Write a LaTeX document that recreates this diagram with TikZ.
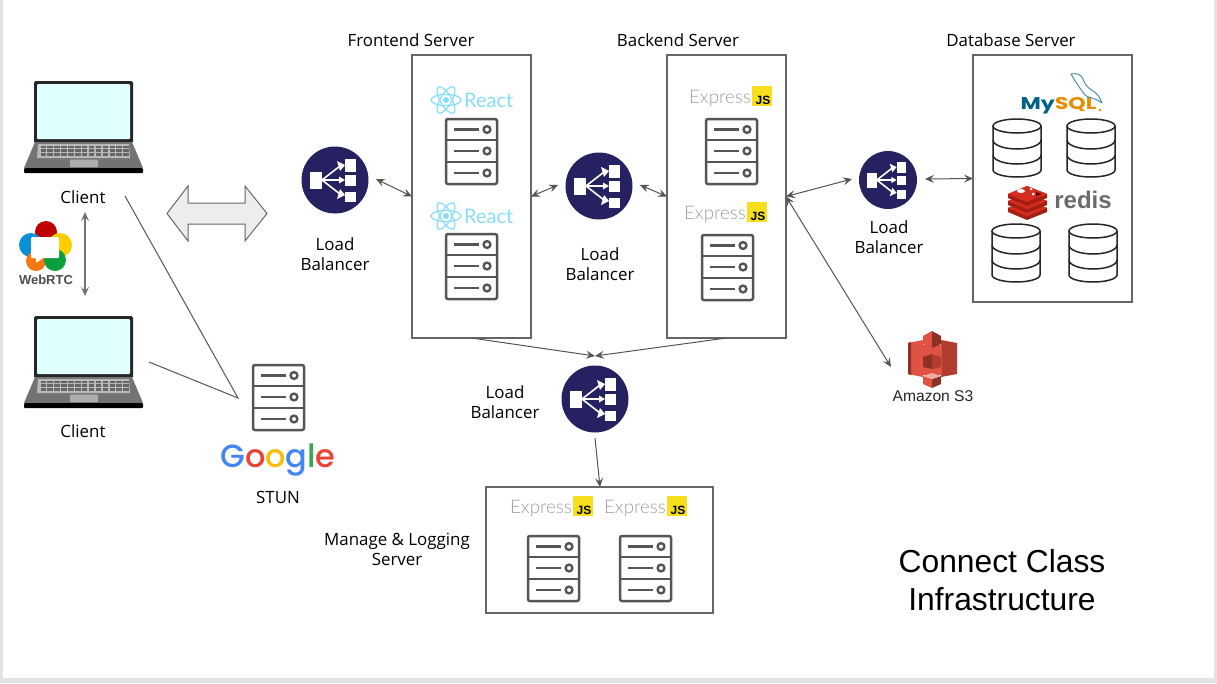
\documentclass[tikz,border=0pt]{standalone}
\usepackage{fontspec}
\setmainfont{Open Sans}
\newfontfamily\arialf{Liberation Sans}
\newfontfamily\latof{Lato}
\newfontfamily\latol{Lato Light}
\newfontfamily\popf{Poppins}
\newfontfamily\popm{Poppins Medium}
\usetikzlibrary{arrows.meta}
\definecolor{lbblue}{HTML}{262262}
\definecolor{srvgray}{HTML}{555555}
\definecolor{edge}{HTML}{666666}
\definecolor{reactc}{HTML}{86DDFA}
\definecolor{jsy}{HTML}{F7DF1E}
\definecolor{s3l}{HTML}{E05243}
\definecolor{s3d}{HTML}{8C3123}
\definecolor{s3m}{HTML}{B23D2E}
\tikzset{
 x=1pt,y=-1pt,
 lbl/.style={font=\fontsize{16.9}{20}\selectfont,align=center,inner sep=0pt,text=black},
 boxn/.style={draw=edge,line width=1.1pt,fill=white,inner sep=0pt,outer sep=0pt},
 lbn/.style={circle,fill=lbblue,inner sep=0pt},
 tip/.style={{Stealth[length=9pt,width=8pt,inset=3.5pt]}-{Stealth[length=9pt,width=8pt,inset=3.5pt]},draw=srvgray,line width=1pt},
 tipend/.style={-{Stealth[length=9pt,width=8pt,inset=3.5pt]},draw=srvgray,line width=1pt},
 plain/.style={draw=srvgray,line width=1pt},
 server/.pic={
  \draw[srvgray,line width=2.5pt,rounded corners=2pt,fill=white] (1,1) rectangle (52,66);
  \draw[srvgray,line width=2.2pt] (1,22)--(52,22) (1,44)--(52,44);
  \foreach \y in {11.5,33,55}{
   \draw[srvgray,line width=2.2pt] (9,\y)--(34,\y);
   \draw[srvgray,line width=2.4pt] (42,\y) circle (3.4);
  }
 },
 laptop/.pic={
  \fill[black!85,rounded corners=1.5pt] (0,0) rectangle (99,62);
  \fill[color={rgb,255:red,224;green,255;blue,255},rounded corners=1pt] (3,3) rectangle (96,58);
  \fill[black!55] (1,61)--(98,61)--(109,87)--(-10,87)--cycle;
  \fill[black,rounded corners=1pt] (-10,87) rectangle (109,92);
  \fill[black!28] (4,63) -- (95,63) -- (96,77) -- (3,77) -- cycle;
  \foreach \r in {0,1,2}{\foreach \c in {0,...,12}{
    \fill[black!60] ({6.5+\c*6.9},{64.5+\r*3.9}) rectangle ++(5.5,2.8);
  }}
  \fill[black!32,rounded corners=1pt] (36,78.5) rectangle (64,86);
 },
 lbicon/.pic={
  \fill[white] (-25,-8) rectangle (-13,9);
  \fill[white] (10,-21) rectangle (21,-8);
  \fill[white] (10,-5) rectangle (21,6);
  \fill[white] (10,12) rectangle (21,22);
  \draw[white,line width=1.6pt] (-13,0)--(5,-14) (-13,0)--(5,0) (-13,0)--(5,14);
  \fill[white] (2,-19)--(10,-15)--(5,-9)--cycle (4,-3.5)--(10,0)--(4,3.5)--cycle (2,19)--(10,15)--(5,9)--cycle;
 },
 reactlogo/.pic={
  \foreach \a in {0,60,120}{\draw[reactc,line width=1.2pt,rotate=\a] (0,0) ellipse (15 and 5.6);}
  \fill[reactc] (0,0) circle (3);
  \node[anchor=west,inner sep=0pt,text=reactc,font=\latof\fontsize{20}{20}\selectfont] (-t) at (18,0) {React};
 },
 expresslogo/.pic={
  \node[anchor=east,inner sep=0pt,text=black!38,font=\latol\fontsize{18.7}{20}\selectfont] (-t) at (0,3) {Express};
  \node[anchor=center,fill=jsy,minimum size=20pt,inner sep=0pt] (-j) at (10.5,0) {};
  \node[anchor=center,inner sep=0pt,text=black,font=\arialf\bfseries\fontsize{12}{12}\selectfont] (-k) at (12,4) {JS};
 },
 cyl/.pic={
  \draw[black!85,line width=1.5pt,fill=white] (0,7) -- (0,51) arc[start angle=180,end angle=0,x radius=24,y radius=7] -- (48,7);
  \draw[black!85,line width=1.5pt,fill=white] (24,7) ellipse (24 and 7);
  \draw[black!85,line width=1.5pt] (0,21) arc[start angle=180,end angle=0,x radius=24,y radius=9];
  \draw[black!85,line width=1.5pt] (0,36) arc[start angle=180,end angle=0,x radius=24,y radius=9];
 },
}
\begin{document}
\begin{tikzpicture}
\useasboundingbox (0,0) rectangle (1217,683);
\fill[black!11] (0,0) rectangle (1217,683);
\fill[white] (3,0) rectangle (1214,678);

% boxes
\node[boxn,minimum width=119pt,minimum height=283pt] (fe) at (471.5,196.5) {};
\node[boxn,minimum width=119pt,minimum height=283pt] (be) at (726.5,196.5) {};
\node[boxn,minimum width=159pt,minimum height=247pt] (db) at (1052.5,178.5) {};
\node[boxn,minimum width=227pt,minimum height=126pt] (ml) at (599.5,550) {};

% load balancers
\node[lbn,minimum size=67pt] (lb1) at (335,180) {};
\node[lbn,minimum size=67pt] (lb2) at (599,186) {};
\node[lbn,minimum size=58pt] (lb3) at (888,180) {};
\node[lbn,minimum size=67pt] (lb4) at (595,399) {};
\pic at (lb1) {lbicon};
\pic at (lb2) {lbicon};
\pic[scale=.86] at (lb3) {lbicon};
\pic at (lb4) {lbicon};

% servers
\pic at (445,118) {server};
\pic at (445,233) {server};
\pic at (705,118) {server};
\pic at (701,234) {server};
\pic at (252,364) {server};
\pic at (527,535) {server};
\pic at (619,535) {server};

% laptops
\pic at (34,81) {laptop};
\pic at (34,316) {laptop};

% logos
\pic (r1) at (446,100) {reactlogo};
\pic (r2) at (446,216) {reactlogo};
\pic (e1) at (751,96) {expresslogo};
\pic (e2) at (746,212) {expresslogo};
\pic (e3) at (572,506) {expresslogo};
\pic (e4) at (666,506) {expresslogo};

% databases
\pic at (993,119) {cyl};
\pic at (1067,119) {cyl};
\pic at (992,224) {cyl};
\pic at (1069,224) {cyl};

% MySQL
\node[anchor=center,inner sep=0pt,xscale=1.3,font=\popf\bfseries\fontsize{17}{20}\selectfont] (mysql) at (1058.5,106) {\textcolor[HTML]{00618A}{My}\textcolor[HTML]{E48E00}{SQL}};
\fill[color={rgb,255:red,228;green,142;blue,0}] (1100,110) circle (1.3);
\draw[color={rgb,255:red,62;green,135;blue,168},line width=.9pt,line join=round] (1071,74) .. controls (1076,73) and (1081,74) .. (1083,79) .. controls (1085,85) and (1088,88) .. (1093,91) .. controls (1098,94) and (1100,98) .. (1102,103) .. controls (1098,100) and (1095,99) .. (1092,98) .. controls (1087,97) and (1084,95) .. (1082,91) .. controls (1079,87) and (1075,81) .. cycle;

% redis
\foreach \dy in {14,7,0}{
 \fill[color={rgb,255:red,164;green,30;blue,17}] (1008,{194+\dy}) -- (1027,{186+\dy}) -- (1047,{194+\dy}) -- (1047,{198+\dy}) -- (1027,{206+\dy}) -- (1008,{198+\dy}) -- cycle;
 \fill[color={rgb,255:red,214;green,44;blue,32}] (1008,{194+\dy}) -- (1027,{186+\dy}) -- (1047,{194+\dy}) -- (1027,{202+\dy}) -- cycle;
}
\fill[white] (1021,191) ellipse (4 and 2);
\fill[white] (1031,189) circle (1.5);
\fill[white] (1033,194) circle (1.5);
\fill[red!45!black] (1036,192)--(1042,194)--(1036,196)--cycle;
\node[inner sep=0pt,text=black!58,font=\arialf\bfseries\fontsize{24}{24}\selectfont] (redis) at (1083,200) {redis};

% WebRTC
\fill[red!75!black] (46,232) circle (11);
\fill[color={rgb,255:red,10;green,144;blue,216}] (31,245) circle (12);
\fill[color={rgb,255:red,255;green,204;blue,0}] (60,245) circle (12);
\fill[color={rgb,255:red,245;green,120;blue,20}] (36,261) circle (10);
\fill[color={rgb,255:red,10;green,160;blue,60}] (55,260) circle (11);
\fill[white,rounded corners=1pt] (31,237) -- (59,237) -- (59,258) -- (43,258) -- (36,263) -- (36,258) -- (31,258) -- cycle;
\node[inner sep=0pt,text=black!70,font=\arialf\bfseries\fontsize{13}{13}\selectfont] (webrtc) at (46,280) {WebRTC};

% Google
\node[inner sep=0pt,anchor=center,font=\popm\fontsize{32}{32}\selectfont] (google) at (278,460) {\textcolor[HTML]{4285F4}{G}\textcolor[HTML]{EA4335}{o}\textcolor[HTML]{FBBC05}{o}\textcolor[HTML]{4285F4}{g}\textcolor[HTML]{34A853}{l}\textcolor[HTML]{EA4335}{e}};

% S3
\fill[s3l] (908,343) -- (923,340) -- (923,377) -- (908,374) -- cycle;
\fill[s3d] (908,343) -- (911,342) -- (911,375) -- (908,374) -- cycle;
\fill[s3m] (957,343) -- (941,340) -- (941,377) -- (957,374) -- cycle;
\fill[s3l] (922.5,345) rectangle (941.5,375);
\fill[s3l] (923,336) -- (932,331) -- (932,348) -- (923,344) -- cycle;
\fill[s3d] (941,336) -- (932,331) -- (932,348) -- (941,344) -- cycle;
\fill[s3d] (923,357) -- (932,354) -- (932,369) -- (923,367) -- cycle;
\fill[s3m] (941,357) -- (932,354) -- (932,369) -- (941,367) -- cycle;
\fill[s3l] (923,376) -- (932,379) -- (932,388) -- (923,384) -- cycle;
\fill[s3d] (941,376) -- (932,379) -- (932,388) -- (941,384) -- cycle;
\fill[color={rgb,255:red,240;green,170;blue,160}] (923,376) -- (932,373) -- (941,376) -- (932,379) -- cycle;
\node[inner sep=0pt,text=black!85,font=\arialf\fontsize{15.6}{15}\selectfont] (s3) at (933,396) {Amazon S3};

% big arrow
\node[inner sep=0pt] (bigarrow) at (217,213.5) {};
\draw[edge,line width=1pt,fill=black!7] (167,213.5) -- (188,186) -- (188,203) -- (245,203) -- (245,186) -- (267,213.5) -- (245,241) -- (245,224) -- (188,224) -- (188,241) -- cycle;

% labels
\node[lbl] (lfe) at (411,40) {Frontend Server};
\node[lbl] (lbe) at (678,40) {Backend Server};
\node[lbl] (ldb) at (1011,40) {Database Server};
\node[lbl] (c1) at (83,197) {Client};
\node[lbl] (c2) at (83,431) {Client};
\node[lbl] (t1) at (335,254) {Load\\Balancer};
\node[lbl] (t2) at (600,264) {Load\\Balancer};
\node[lbl] (t3) at (889,237) {Load\\Balancer};
\node[lbl] (t4) at (505,402) {Load\\Balancer};
\node[lbl] (stun) at (278,497) {STUN};
\node[lbl] (mlt) at (397,549) {Manage \& Logging\\Server};
\node[align=center,inner sep=0pt,font=\arialf\fontsize{31.8}{38}\selectfont] (title) at (1002,580) {Connect Class\\Infrastructure};

% connectors
\coordinate (lb1r) at (376,179);
\coordinate (lb2l) at (558,185);
\coordinate (lb2r) at (640,185);
\coordinate (lb3l) at (852,179);
\coordinate (lb3r) at (925,179);
\coordinate (s3p) at (891,367);
\coordinate (join) at (595,356);
\coordinate (lb4b) at (595,438);
\coordinate (mlt1) at (600,487);
\coordinate (stunp) at (238,398);
\coordinate (cl1) at (125,196);
\coordinate (cl2) at (149,362);
\coordinate (rtca) at (85,212);
\coordinate (rtcb) at (85,296);
\draw[tip] (lb1r) -- (fe.west);
\draw[tip] (fe.east) -- (lb2l);
\draw[tip] (lb2r) -- (be.west);
\draw[tip] (be.east) -- (lb3l);
\draw[tip] (lb3r) -- (db.west);
\draw[tip] (be.east) -- (s3p);
\draw[tipend] (fe.south) -- (join);
\draw[tipend] (be.south) -- (join);
\draw[tipend] (lb4b) -- (mlt1);
\draw[plain] (cl1) -- (stunp) -- (cl2);
\draw[tip,draw=black!55,line width=1.2pt] (rtca) -- (rtcb);
\end{tikzpicture}
\end{document}
